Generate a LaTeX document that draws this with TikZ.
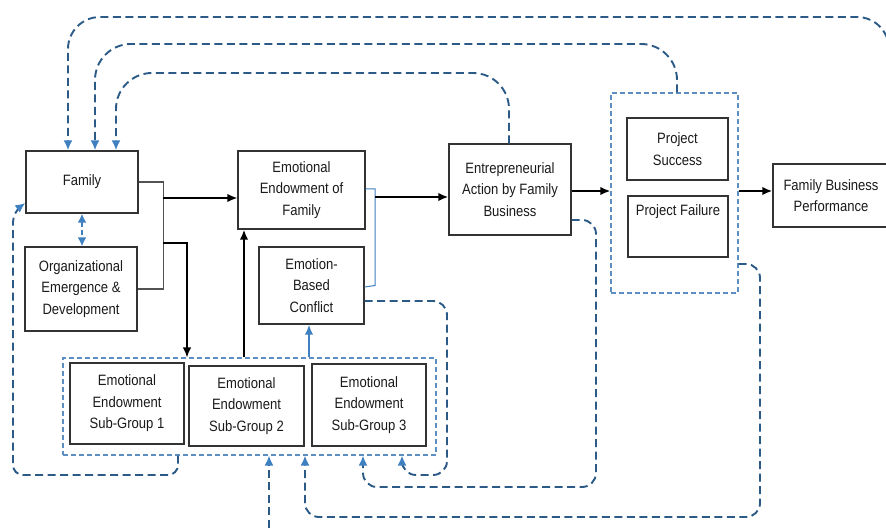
\documentclass[tikz,border=0pt]{standalone}
\usepackage{fontspec}
\usetikzlibrary{arrows.meta}
\newfontfamily\lab{Liberation Sans}[FakeStretch=0.87]

\definecolor{dblue}{HTML}{2B5A87}
\definecolor{lblue}{HTML}{3F80C0}
\definecolor{cblue}{HTML}{5B8FC4}
\definecolor{edge}{HTML}{333333}
\definecolor{txt}{HTML}{1A1A1A}

\tikzset{
  box/.style={draw=edge, line width=1.3pt, fill=white, align=center, inner sep=0pt,
              text=txt, font=\lab\fontsize{15}{21.5}\selectfont},
  lbl/.style={inner sep=0pt, text=txt, font=\lab\fontsize{15}{21.5}\selectfont},
  holder/.style={draw=cblue, line width=1.1pt, dash pattern=on 5pt off 3pt},
  btip/.style={-{Latex[length=10pt,width=8.5pt]}},
  link/.style={draw=edge!85, line width=1.6pt},
  thick link/.style={draw=black, line width=2.2pt, btip},
  fb/.style={draw=dblue, line width=1.9pt, dash pattern=on 8pt off 4.5pt,
             -{Latex[length=10pt,width=9pt,color=lblue]}},
  fbs/.style={draw=lblue, line width=1.9pt, dash pattern=on 5pt off 3pt},
}

\begin{document}
\begin{tikzpicture}[x=1pt,y=-1pt]
\useasboundingbox (0,0) rectangle (886,529);
\clip (0,0) rectangle (886,529);

% dashed groupings
\node[holder, minimum width=127pt, minimum height=200pt] (pc) at (674.5,193) {};
\node[holder, minimum width=373pt, minimum height=97pt] (sgc) at (249.5,406.5) {};

% boxes
\node[box, minimum width=112pt, minimum height=62pt] (fam) at (82,182) {Family};
\node[box, minimum width=112pt, minimum height=84pt] (org) at (81,289)
  {Organizational\\Emergence \&\\Development};
\node[box, minimum width=127pt, minimum height=78pt] (eef) at (301.5,190)
  {Emotional\\Endowment of\\Family};
\node[box, minimum width=105pt, minimum height=77pt] (ebc) at (311.5,285.5)
  {Emotion-\\Based\\Conflict};
\node[box, minimum width=122pt, minimum height=91pt] (ea) at (510,189.5)
  {Entrepreneurial\\Action by Family\\Business};
\node[box, minimum width=101pt, minimum height=62pt] (ps) at (677.5,149)
  {Project\\Success};
\node[box, minimum width=100pt, minimum height=61pt,
      label={[lbl,anchor=north,yshift=-9pt]north:Project Failure}] (pf) at (678,226.5) {};
\node[box, minimum width=116pt, minimum height=63pt] (fbp) at (831,195.5)
  {Family Business\\Performance};
\node[box, minimum width=114pt, minimum height=81pt] (sg1) at (127,403.5)
  {Emotional\\Endowment\\Sub-Group 1};
\node[box, minimum width=115pt, minimum height=80pt] (sg2) at (246.5,406)
  {Emotional\\Endowment\\Sub-Group 2};
\node[box, minimum width=114pt, minimum height=82pt] (sg3) at (369,405)
  {Emotional\\Endowment\\Sub-Group 3};

% guide coordinates
\coordinate (j1) at (163,198);
\coordinate (j2) at (163,243);
\coordinate (j3) at (187,243);
\coordinate (x244) at (244,0);
\coordinate (x309) at (309,0);
\coordinate (x375) at (375,0);
\coordinate (y197) at (0,197);
\coordinate (y191) at (0,191);

% solid links
\draw[link] (fam.east) -- ++(25,0) |- (org.east);
\draw[link, draw=black, btip] (j1) -- (j1 -| eef.west);
\draw[link, draw=black, btip] (j2) -- (j3) -- (j3 |- sgc.north);
\draw[thick link] (x244 |- sgc.north) -- (x244 |- eef.south);
\draw[draw=lblue, line width=1.7pt, -{Latex[length=10pt,width=8.5pt]}]
  (x309 |- sgc.north) -- (x309 |- ebc.south);
\draw[draw=lblue, line width=1pt] ([yshift=1pt]eef.east) -| (x375 |- ebc.east) -- ([yshift=-1.5pt]ebc.east);
\draw[thick link] (x375 |- y197) -- (ea.west |- y197);
\draw[thick link] (ea.east |- y191) -- (pc.west |- y191);
\draw[thick link] (pc.east |- y191) -- (fbp.west |- y191);

% feedback loops over the top
\coordinate (offR) at (889,150);
\coordinate (x68) at (68,0);
\coordinate (x95) at (95,0);
\coordinate (x116) at (116,0);
\coordinate (x677) at (677,0);
\coordinate (x509) at (509,0);
\draw[fb, rounded corners=32pt] (offR) -- (889,17) -- (68,17) -- (x68 |- fam.north);
\draw[fb, rounded corners=36pt] (x677 |- pc.north) -- (677,44) -- (95,44) -- (x95 |- fam.north);
\draw[fb, rounded corners=36pt] (x509 |- ea.north) -- (509,73) -- (116,73) -- (x116 |- fam.north);

% feedback loops underneath
\coordinate (x178) at (178,0);
\coordinate (y203) at (0,203);
\draw[fb, rounded corners=10pt] (x178 |- sgc.south) -- (178,475) -- (13,475) -- (13,212)
  -- (fam.west |- y203);
\coordinate (x82) at (82,0);
\draw[fbs, {Latex[length=9pt,width=9pt]}-{Latex[length=9pt,width=9pt]}]
  (x82 |- fam.south) -- (x82 |- org.north);

\coordinate (y301) at (0,301);
\coordinate (y220) at (0,220);
\coordinate (y264) at (0,264);
\coordinate (x402) at (402,0);
\coordinate (x363) at (363,0);
\coordinate (x305) at (305,0);
\coordinate (x269) at (269,0);
\coordinate (offB) at (269,540);
\draw[fb, rounded corners=14pt] (ebc.east |- y301) -- (447,301) -- (447,475) -- (402,475)
  -- (x402 |- sgc.south);
\draw[fb, rounded corners=14pt] (ea.east |- y220) -- (596,220) -- (596,487) -- (363,487)
  -- (x363 |- sgc.south);
\draw[fb, rounded corners=14pt] (pc.east |- y264) -- (760,264) -- (760,517) -- (305,517)
  -- (x305 |- sgc.south);
\draw[fb] (offB) -- (x269 |- sgc.south);
\end{tikzpicture}
\end{document}
